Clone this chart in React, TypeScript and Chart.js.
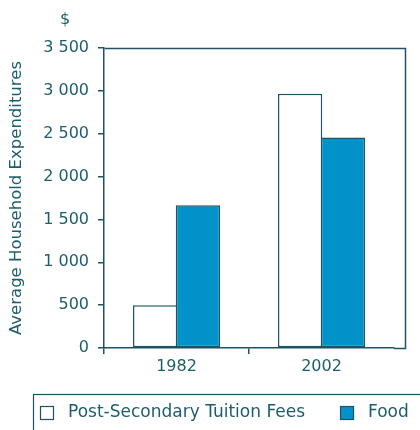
import React, { useEffect, useRef } from "react";
import { Chart, registerables } from "chart.js";

Chart.register(...registerables);

const categories = ["1982", "2002"];
const tuitionValues = [500, 2965];
const foodValues = [1665, 2457];
const seriesNames = ["Post-Secondary Tuition Fees", "Food"];
const yTicks = [0, 500, 1000, 1500, 2000, 2500, 3000, 3500];
const yTitle = "Average Household Expenditures";
const unitLabel = "$";

const TEXT = "#1d5e6c";
const LINE = "#1d5362";
const FOOD = "#0092c8";
const FONT = "'DejaVu Sans', sans-serif";

const fmt = (v: number) => String(v).replace(/\B(?=(\d{3})+(?!\d))/g, " ");

const framePlugin = {
  id: "frame",
  afterDraw(chart: any) {
    const { ctx, chartArea } = chart;
    ctx.save();
    ctx.strokeStyle = LINE;
    ctx.lineWidth = 1.5;
    const l = Math.round(chartArea.left) + 0.5;
    const t = Math.round(chartArea.top) + 0.5;
    const r = Math.round(chartArea.right) + 11.5;
    const b = Math.round(chartArea.bottom) + 0.5;
    ctx.beginPath();
    ctx.moveTo(l, t);
    ctx.lineTo(r, t);
    ctx.lineTo(r, b);
    ctx.lineTo(Math.round(chartArea.right), b);
    ctx.stroke();

    // unit label
    ctx.fillStyle = TEXT;
    ctx.font = `16px ${FONT}`;
    ctx.textAlign = "center";
    ctx.textBaseline = "middle";
    ctx.fillText(unitLabel, 65, 20);

    // legend
    ctx.lineWidth = 1.2;
    ctx.strokeStyle = LINE;
    ctx.strokeRect(33.5, 394.5, 420, 60);
    ctx.font = `17px ${FONT}`;
    ctx.textAlign = "left";
    let x = 40;
    chart.data.datasets.forEach((ds: any) => {
      ctx.fillStyle = ds.backgroundColor;
      ctx.fillRect(x + 0.5, 406.5, 13, 13);
      ctx.strokeStyle = LINE;
      ctx.strokeRect(x + 0.5, 406.5, 13, 13);
      ctx.fillStyle = TEXT;
      ctx.fillText(ds.label, x + 28, 413);
      x = x + 28 + ctx.measureText(ds.label).width + 35;
    });
    ctx.restore();
  },
};

export default function App() {
  const ref = useRef<HTMLCanvasElement | null>(null);
  useEffect(() => {
    if (!ref.current) return;
    const chart = new Chart(ref.current, {
      type: "bar",
      data: {
        labels: categories,
        datasets: [
          {
            label: seriesNames[0],
            data: tuitionValues,
            backgroundColor: "#ffffff",
            borderColor: LINE,
            borderWidth: 1.5,
            borderSkipped: false,
          },
          {
            label: seriesNames[1],
            data: foodValues,
            backgroundColor: FOOD,
            borderColor: LINE,
            borderWidth: 1.5,
            borderSkipped: false,
          },
        ],
      },
      options: {
        animation: false,
        responsive: true,
        maintainAspectRatio: false,
        layout: { padding: { left: 0, top: 48, right: 26, bottom: 36 } },
        font: { family: FONT },
        plugins: {
          legend: { display: false },
          tooltip: { enabled: false },
        },
        datasets: { bar: { categoryPercentage: 0.59, barPercentage: 1.035 } },
        scales: {
          x: {
            offset: true,
            grid: {
              offset: true,
              drawOnChartArea: false,
              tickLength: 6,
              lineWidth: 1.5,
              color: (c: any) => (c.type !== "tick" ? "rgba(0,0,0,0)" : LINE),
            },
            border: { color: LINE, width: 1.5 },
            ticks: { color: TEXT, font: { family: FONT, size: 16 }, padding: 3 },
            afterFit: (s: any) => {
              s.height = 46;
            },
          },
          y: {
            min: 0,
            max: 3500,
            afterBuildTicks: (s: any) => {
              s.ticks = yTicks.map((v) => ({ value: v }));
            },
            grid: { drawOnChartArea: false, tickLength: 6, lineWidth: 1.5, color: LINE },
            border: { color: LINE, width: 1.5 },
            ticks: {
              color: TEXT,
              font: { family: FONT, size: 16 },
              padding: 9,
              callback: (v: any) => fmt(Number(v)),
            },
            title: {
              display: true,
              text: yTitle,
              color: TEXT,
              font: { family: FONT, size: 16.5 },
              padding: { top: 7, bottom: 0 },
            },
            afterFit: (s: any) => {
              s.width = 104;
            },
          },
        },
      },
      plugins: [framePlugin],
    });
    return () => chart.destroy();
  }, []);
  return (
    <div style={{ position: "fixed", left: 0, top: 0, width: 420, height: 430 }}>
      <canvas ref={ref} />
    </div>
  );
}
